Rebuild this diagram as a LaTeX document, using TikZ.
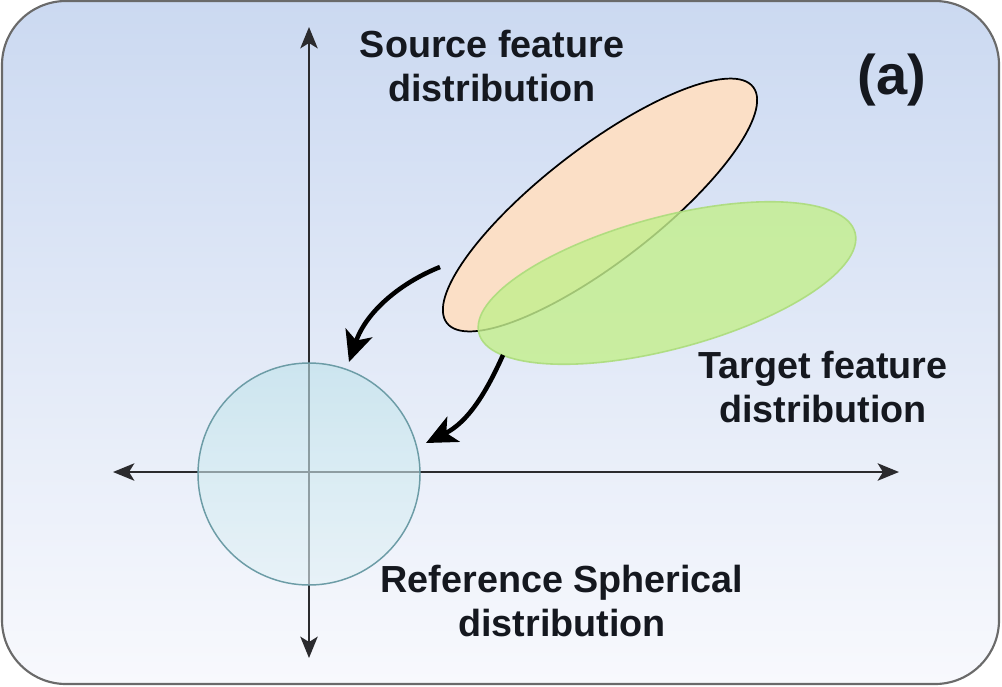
\documentclass[tikz,border=0pt]{standalone}
\usepackage{fontspec}
\setmainfont{Liberation Sans}
\usetikzlibrary{arrows.meta,shapes.geometric}
\definecolor{bgtop}{HTML}{CBD9F1}
\definecolor{bgbot}{HTML}{F8F9FD}
\definecolor{frame}{HTML}{6A6A6A}
\definecolor{axisc}{HTML}{2B2B2E}
\definecolor{srcfill}{HTML}{FBDFC6}
\definecolor{tgtfill}{HTML}{C4EF8E}
\definecolor{tgtline}{HTML}{ACDC7C}
\definecolor{reftop}{HTML}{BEE3EA}
\definecolor{refbot}{HTML}{E2F1F6}
\definecolor{refline}{HTML}{6C9CA6}
\definecolor{txt}{HTML}{15181F}
\tikzset{
  axis/.style={draw=axisc, line width=1.8pt, {Stealth[length=16pt,width=13pt,inset=4pt]}-{Stealth[length=16pt,width=13pt,inset=4pt]}},
  mapping/.style={draw=black, line width=3.4pt, -{Stealth[length=23pt,width=21pt,inset=6pt]}},
  lbl/.style={font=\fontsize{28.3}{32.3}\selectfont\bfseries, text=txt, align=center, inner sep=0pt},
}
\begin{document}
\begin{tikzpicture}[x=0.75pt,y=-0.75pt]
\useasboundingbox (0,0) rectangle (1002,686);
% background panel
\draw[frame, line width=1.6pt, rounded corners=48pt, top color=bgtop, bottom color=bgbot]
  (2,1) rectangle (999,684);
% axes
\coordinate (xl) at (113,472);
\coordinate (xr) at (899,472);
\coordinate (yt) at (309,27);
\coordinate (yb) at (309,658);
\draw[axis] (xl) -- (xr);
\draw[axis] (yb) -- (yt);
% reference sphere
\node[circle, draw=refline, line width=1.1pt, minimum size=166.5pt, inner sep=0pt,
      top color=reftop, bottom color=refbot, fill opacity=0.6] (ref) at (309,474) {};
% source distribution
\node[ellipse, draw=black, line width=1.3pt, fill=srcfill, minimum width=290pt, minimum height=86pt,
      inner sep=0pt, rotate=37.6] (src) at (600,205) {};
% target distribution
\node[ellipse, draw=tgtline, line width=1.2pt, fill=tgtfill, fill opacity=0.82, draw opacity=0.9,
      minimum width=292pt, minimum height=99pt, inner sep=0pt, rotate=15] (tgt) at (667,283) {};
% mapping arrows
\coordinate (s1) at (440,267);
\coordinate (e1) at (349,362);
\coordinate (s2) at (503,355);
\coordinate (e2) at (426,443);
\draw[mapping] (s1) .. controls (400,283) and (366,312) .. (e1);
\draw[mapping] (s2) .. controls (486,393) and (468,422) .. (e2);
% labels
\node[lbl] (srclbl) at (492,66) {Source feature\\distribution};
\node[lbl] (tgtlbl) at (823,387) {Target feature\\distribution};
\node[lbl] (reflbl) at (562,601) {Reference Spherical\\distribution};
\node[font=\fontsize{42}{48}\selectfont\bfseries, text=txt, inner sep=0pt] (tag) at (892,80) {(a)};
\end{tikzpicture}
\end{document}
